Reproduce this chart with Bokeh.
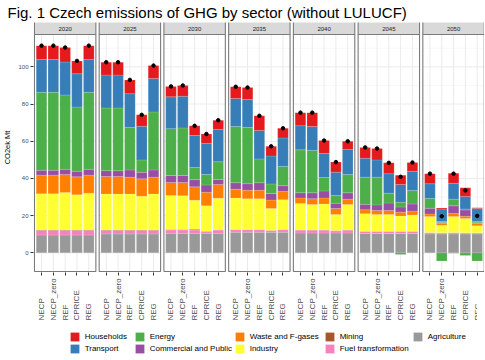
import numpy as np
from math import pi
from bokeh.plotting import figure
from bokeh.layouts import column
from bokeh.models import (Range1d, FixedTicker, Legend, LegendItem, CustomJSTickFormatter)
from bokeh.embed import file_html
from bokeh.resources import INLINE
from bokeh.core.properties import value

# ---------------- data (Mt CO2eq) ----------------
years = ["2020", "2025", "2030", "2035", "2040", "2045", "2050"]
scenarios = ["NECP", "NECP_zero", "REF", "CPRICE", "REG"]

agriculture = [9.6, 9.6, 9.6, 9.6, 9.6,
               10.2, 10.2, 10.2, 10.2, 10.2,
               10.5, 10.5, 10.5, 10.5, 10.5,
               11.1, 11.1, 11.1, 11.1, 11.1,
               10.7, 10.7, 10.7, 10.7, 10.7,
               10.4, 10.4, 10.4, 10.4, 10.4,
               10.2, 10.2, 10.2, 10.2, 10.2]
fuel_transformation = [2.5, 2.5, 2.5, 2.5, 2.5,
                       1.9, 1.9, 1.9, 1.9, 1.9,
                       1.8, 1.8, 1.8, 0.9, 1.8,
                       1.4, 1.4, 1.4, 1.0, 1.4,
                       1.5, 1.5, 1.5, 1.2, 1.5,
                       1.1, 1.1, 1.1, 1.1, 1.1,
                       0.7, 0.6, 0.7, 0.6, 0.6]
mining = [0.2, 0.2, 0.2, 0.2, 0.2,
          0.2, 0.2, 0.2, 0.2, 0.2,
          0.3, 0.3, 0.4, 0.2, 0.2,
          0.1, 0.1, 0.1, 0.1, 0.1,
          0.1, 0.1, 0.1, 0.1, 0.1,
          0.1, 0.1, 0.1, 0.1, 0.1,
          0.0, 0.0, 0.0, 0.0, 0.0]
industry = [19.5, 19.5, 20.2, 18.9, 19.8,
            19.3, 19.3, 19.3, 18.1, 19.3,
            18.3, 18.1, 15.6, 13.8, 16.9,
            16.9, 16.5, 16.5, 11.6, 16.0,
            14.2, 13.7, 14.0, 8.6, 13.7,
            9.5, 9.1, 9.1, 8.2, 8.8,
            8.6, 4.0, 8.7, 7.7, 3.8]
waste_fgases = [10.0, 10.0, 9.6, 9.7, 9.7,
                9.5, 9.5, 9.1, 9.4, 9.1,
                7.0, 7.2, 7.2, 7.2, 7.3,
                4.7, 4.6, 4.6, 4.6, 4.4,
                3.0, 3.1, 3.2, 3.3, 2.9,
                2.1, 2.1, 2.1, 2.1, 2.1,
                1.4, 1.1, 1.6, 1.2, 1.3]
commercial = [2.6, 2.6, 2.8, 3.0, 3.1,
              3.1, 3.1, 3.9, 3.5, 3.9,
              3.7, 3.7, 3.9, 3.9, 2.8,
              3.5, 3.5, 4.0, 3.5, 3.1,
              2.8, 3.2, 3.8, 2.8, 3.4,
              2.9, 3.0, 4.0, 2.8, 3.8,
              3.1, 0.4, 4.1, 3.4, 0.3]
energy = [41.9, 41.9, 40.0, 34.5, 41.4,
          33.7, 33.7, 22.8, 6.7, 31.2,
          25.2, 25.6, 6.5, 5.6, 9.5,
          30.2, 30.2, 12.8, 5.2, 10.4,
          23.1, 22.8, 7.2, 4.1, 9.8,
          14.6, 14.9, 5.3, 2.5, 7.2,
          5.3, 0.6, 3.6, 0.5, 0.7]
energy_negative = [0, 0, 0, 0, 0,
                   0, 0, 0, 0, 0,
                   0, 0, 0, 0, 0,
                   0, 0, 0, 0, 0,
                   0, 0, 0, 0, 0,
                   0, 0, 0, -0.9, 0,
                   0, -4.4, -0.2, -1.4, -4.4]
transport = [17.7, 17.7, 17.7, 17.9, 17.7,
             17.7, 17.7, 18.2, 18.1, 17.9,
             17.1, 17.0, 17.2, 16.8, 17.4,
             15.1, 15.1, 15.3, 15.0, 15.3,
             13.0, 12.8, 13.0, 12.6, 13.5,
             10.2, 9.3, 10.5, 9.6, 10.4,
             7.9, 6.7, 8.5, 6.7, 6.9]
households = [7.4, 7.4, 7.8, 6.9, 7.4,
              6.9, 6.9, 7.4, 6.1, 7.0,
              5.6, 5.8, 5.2, 5.0, 4.9,
              6.3, 6.4, 7.9, 5.2, 5.2,
              7.0, 7.5, 6.9, 5.4, 4.4,
              5.8, 6.1, 5.8, 5.0, 4.7,
              5.4, 0.5, 5.4, 4.7, 0.5]

sector_names = ["Agriculture", "Fuel transformation", "Mining", "Industry",
                "Waste and F-gases", "Commercial and Public", "Energy",
                "Transport", "Households"]
sector_values = [agriculture, fuel_transformation, mining, industry, waste_fgases,
                 commercial, energy, transport, households]
sector_colors = ["#999999", "#F781BF", "#A65628", "#FFFF33", "#FF7F00",
                 "#984EA3", "#4DAF4A", "#377EB8", "#E41A1C"]
# legend columns (as laid out in the reference, column by column)
legend_columns = [["Households", "Transport"],
                  ["Energy", "Commercial and Public"],
                  ["Waste and F-gases", "Industry"],
                  ["Mining", "Fuel transformation"],
                  ["Agriculture"]]
y_ticks = [0, 20, 40, 60, 80, 100]
y_minor = [10, 30, 50, 70, 90, 110]

# ---------------- geometry ----------------
FONT = "Liberation Sans"
PW, GAP = 5.2, 0.28
nY, nS = len(years), len(scenarios)
panel_l = [i * (PW + GAP) for i in range(nY)]
panel_r = [l + PW for l in panel_l]
xs = [panel_l[i] + 0.6 + j for i in range(nY) for j in range(nS)]

LEFT, FW, FH, STRIP_PX, TOP, BOT = 26, 451, 250, 12, 20, 4
YLO, YHI = -10.0, 117.4
ppu = (FH - STRIP_PX - 1) / (YHI - YLO)
YBOT = YLO - 1 / ppu
YTOP = YHI + STRIP_PX / ppu
x_range = Range1d(-0.08, panel_r[-1] + 0.02)

p = figure(frame_width=FW, frame_height=FH, x_range=x_range,
           y_range=Range1d(YBOT, YTOP), output_backend="svg", toolbar_location=None,
           min_border_left=LEFT, min_border_right=0, min_border_top=TOP,
           min_border_bottom=BOT,
           title="Fig. 1 Czech emissions of GHG by sector (without LULUCF)")
p.outline_line_color = None
p.xgrid.visible = False
p.ygrid.visible = False

p.title.text_font = FONT
p.title.text_font_size = "15px"
p.title.text_font_style = "normal"
p.title.text_color = "black"
p.title.standoff = 3
p.title.offset = -LEFT

# grid lines inside each panel
gx0, gx1, gy = [], [], []
for l, r in zip(panel_l, panel_r):
    for yv in y_ticks:
        gx0.append(l); gx1.append(r); gy.append(yv)
p.segment(x0=gx0, x1=gx1, y0=gy, y1=gy, line_color="#EBEBEB", line_width=1.0)
mx0, mx1, my = [], [], []
for l, r in zip(panel_l, panel_r):
    for yv in y_minor:
        mx0.append(l); mx1.append(r); my.append(yv)
p.segment(x0=mx0, x1=mx1, y0=my, y1=my, line_color="#F2F2F2", line_width=0.6)
p.segment(x0=xs, x1=xs, y0=[YLO] * len(xs), y1=[YHI] * len(xs),
          line_color="#EBEBEB", line_width=1.0)

# stacked bars
bottom = np.zeros(len(xs))
for name, vals, col in zip(sector_names, sector_values, sector_colors):
    v = np.array(vals, dtype=float)
    top = bottom + v
    p.vbar(x=xs, bottom=bottom, top=top, width=0.9, fill_color=col,
           line_color="white", line_alpha=0.25, line_width=0.6)
    bottom = top
neg = np.array(energy_negative, dtype=float)
p.vbar(x=xs, bottom=neg, top=np.zeros(len(xs)), width=0.9, fill_color="#4DAF4A",
       line_color="white", line_alpha=0.25, line_width=0.6)

net_total = bottom + neg
p.scatter(x=xs, y=net_total, size=3.5, color="black")

# panel borders and strips
p.quad(left=panel_l, right=panel_r, bottom=YLO, top=YHI, fill_color=None,
       line_color="#7A7A7A", line_width=1.1)
p.quad(left=panel_l, right=panel_r, bottom=YHI, top=YTOP + 1, fill_color="#D9D9D9",
       line_color="#7A7A7A", line_width=1.1)
p.text(x=[(l + r) / 2 for l, r in zip(panel_l, panel_r)], y=[(YHI + YTOP) / 2] * nY,
       text=years, text_align="center", text_baseline="middle",
       text_font=value(FONT), text_font_size="6px", text_color="#1A1A1A")

# axes
p.yaxis.ticker = FixedTicker(ticks=y_ticks, minor_ticks=[])
p.yaxis.axis_line_color = None
p.yaxis.major_tick_line_color = "#333333"
p.yaxis.major_tick_out = 3
p.yaxis.major_tick_in = 0
p.yaxis.minor_tick_out = 0
p.yaxis.major_label_text_font = FONT
p.yaxis.major_label_text_font_size = "6px"
p.yaxis.major_label_text_color = "#4D4D4D"
p.yaxis.major_label_standoff = 2
p.yaxis.axis_label = "CO2ek Mt"
p.yaxis.axis_label_text_font = FONT
p.yaxis.axis_label_text_font_size = "7.5px"
p.yaxis.axis_label_text_font_style = "normal"
p.yaxis.axis_label_text_color = "black"
p.yaxis.axis_label_standoff = 3

p.xaxis.ticker = FixedTicker(ticks=xs, minor_ticks=[])
p.xaxis.formatter = CustomJSTickFormatter(code="return ''")
p.xaxis.axis_line_color = None
p.xaxis.major_tick_line_color = "#333333"
p.xaxis.major_tick_out = 3
p.xaxis.major_tick_in = 0
p.xaxis.minor_tick_out = 0
p.xaxis.major_label_standoff = 0

# ---------------- lower strip: scenario labels + legend ----------------
H2 = 352 - (TOP + FH + BOT)
q = figure(frame_width=FW, frame_height=H2, x_range=x_range, y_range=Range1d(0, H2),
           output_backend="svg", toolbar_location=None, x_axis_type=None,
           y_axis_type=None, min_border_left=LEFT, min_border_right=0,
           min_border_top=0, min_border_bottom=0)
q.outline_line_color = None
q.xgrid.visible = False
q.ygrid.visible = False

q.text(x=xs, y=[H2 - 44] * len(xs), text=scenarios * nY, angle=pi / 2,
       text_align="left", text_baseline="middle", text_font=value(FONT),
       text_font_size="8px", text_color="#4D4D4D")

# legend keys: zero-size renderers that only carry the fill colour
key_r = {}
for name, col in zip(sector_names, sector_colors):
    key_r[name] = q.vbar(x=[0], bottom=[0], top=[0], width=0, fill_color=col,
                         line_color=None)
col_x = [60, 125, 225, 315, 403]
for cx, names in zip(col_x, legend_columns):
    lg = Legend(items=[LegendItem(label=n, renderers=[key_r[n]]) for n in names],
                location=(cx, 0 if len(names) == 2 else 12), orientation="vertical",
                glyph_width=11, glyph_height=11, label_height=11, label_standoff=5,
                spacing=1, padding=0, margin=0, border_line_color=None,
                background_fill_alpha=0, label_text_font=FONT,
                label_text_font_size="8px", label_text_color="black")
    q.add_layout(lg, "center")

layout = column(p, q, spacing=0)
open("out.html", "w").write(file_html(layout, INLINE))
